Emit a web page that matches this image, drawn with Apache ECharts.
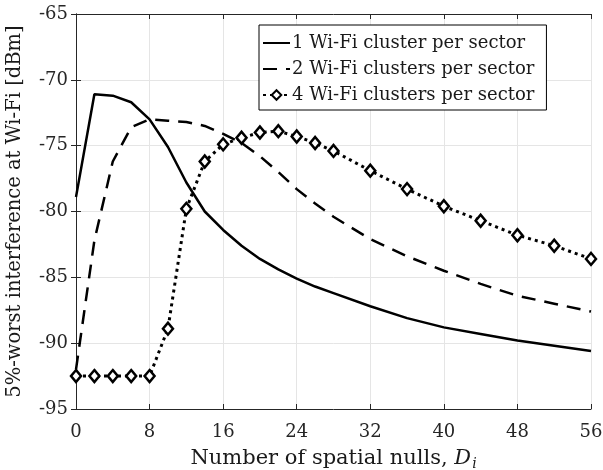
<!DOCTYPE html>
<html>
<head>
<meta charset="utf-8">
<script src="https://cdn.jsdelivr.net/npm/echarts@6/dist/echarts.min.js"></script>
<style>html,body{margin:0;padding:0;background:#fff;}#c{width:603px;height:470px;}</style>
</head>
<body>
<div id="c"></div>
<script>
const xTicks = [0, 8, 16, 24, 32, 40, 48, 56];
const yTicks = [-95, -90, -85, -80, -75, -70, -65];
const seriesNames = ['1 Wi-Fi cluster per sector', '2 Wi-Fi clusters per sector', '4 Wi-Fi clusters per sector'];
const xVals = [0, 2, 4, 6, 8, 10, 12, 14, 16, 18, 20, 22, 24, 26, 28, 32, 36, 40, 44, 48, 52, 56];
const one = [-78.9, -71.1, -71.2, -71.7, -73.0, -75.1, -77.8, -80.0, -81.4, -82.6, -83.6, -84.4, -85.1, -85.7, -86.2, -87.2, -88.1, -88.8, -89.3, -89.8, -90.2, -90.6];
const two = [-92.0, -82.2, -76.2, -73.6, -73.0, -73.1, -73.2, -73.5, -74.1, -74.8, -75.8, -77.0, -78.3, -79.4, -80.4, -82.1, -83.4, -84.5, -85.5, -86.4, -87.0, -87.6];
const four = [-92.5, -92.5, -92.5, -92.5, -92.5, -88.9, -79.8, -76.2, -74.9, -74.4, -74.0, -73.9, -74.3, -74.8, -75.4, -76.9, -78.3, -79.6, -80.7, -81.8, -82.6, -83.6];

const font = 'DejaVu Serif';
const pair = (ys) => xVals.map((x, i) => [x, ys[i]]);
const chart = echarts.init(document.getElementById('c'));
const axisLine = { show: true, lineStyle: { color: '#262626', width: 1 } };
const tick = { inside: true, length: 5, lineStyle: { color: '#262626' } };
chart.setOption({
  animation: false,
  backgroundColor: '#fff',
  grid: { left: 76, right: 12, top: 14, bottom: 61, containLabel: false, outerBoundsMode: 'none' },
  legend: {
    left: 259, top: 25,
    orient: 'vertical',
    backgroundColor: '#fff',
    borderColor: '#000', borderWidth: 1, borderRadius: 0,
    padding: [9, 12, 6, 3],
    itemGap: 8,
    itemWidth: 27, itemHeight: 12,
    textStyle: { fontFamily: font, fontSize: 18, color: '#1a1a1a', padding: [0, 0, 0, -3] },
    data: [
      { name: seriesNames[0], itemStyle: { opacity: 0 } },
      { name: seriesNames[1], itemStyle: { opacity: 0 } },
      { name: seriesNames[2] }
    ]
  },
  xAxis: [{
    type: 'value', min: 0, max: 56, interval: 8,
    axisLine: axisLine, axisTick: tick,
    axisLabel: { fontFamily: font, fontSize: 18, color: '#262626', margin: 14 },
    splitLine: { show: true, lineStyle: { color: '#e5e5e5', width: 1 } },
    name: '{n|Number of spatial nulls, }{d|D}{s|i}',
    nameLocation: 'middle', nameGap: 38,
    nameTextStyle: {
      rich: {
        n: { fontFamily: font, fontSize: 21, color: '#1a1a1a' },
        d: { fontFamily: font, fontSize: 21, color: '#1a1a1a', fontStyle: 'italic' },
        s: { fontFamily: font, fontSize: 14, color: '#1a1a1a', fontStyle: 'italic', verticalAlign: 'bottom', padding: [10, 0, 0, 1] }
      }
    }
  }, {
    type: 'value', position: 'top', min: 0, max: 56, interval: 8,
    axisLine: axisLine, axisTick: tick,
    axisLabel: { show: false }, splitLine: { show: false }
  }],
  yAxis: [{
    type: 'value', min: -95, max: -65, interval: 5,
    axisLine: axisLine, axisTick: tick,
    axisLabel: { fontFamily: font, fontSize: 18, color: '#262626', margin: 8 },
    splitLine: { show: true, lineStyle: { color: '#e5e5e5', width: 1 } },
    name: '5%-worst interference at Wi-Fi [dBm]',
    nameLocation: 'middle', nameGap: 51,
    nameTextStyle: { fontFamily: font, fontSize: 19.5, color: '#1a1a1a' }
  }, {
    type: 'value', position: 'right', min: -95, max: -65, interval: 5,
    axisLine: axisLine, axisTick: tick,
    axisLabel: { show: false }, splitLine: { show: false }
  }],
  series: [{
    name: seriesNames[0], type: 'line', data: pair(one),
    showSymbol: false, symbol: 'none',
    lineStyle: { color: '#000', width: 2.5, type: 'solid' },
    itemStyle: { color: '#000' }
  }, {
    name: seriesNames[1], type: 'line', data: pair(two),
    showSymbol: false, symbol: 'none',
    lineStyle: { color: '#000', width: 2.5, type: [14, 9] },
    itemStyle: { color: '#000' }
  }, {
    name: seriesNames[2], type: 'line', data: pair(four),
    symbol: 'diamond', symbolSize: [10, 12],
    lineStyle: { color: '#000', width: 3, type: [3, 4] },
    itemStyle: { color: '#fff', borderColor: '#000', borderWidth: 2.5 }
  }]
});
</script>
</body>
</html>
